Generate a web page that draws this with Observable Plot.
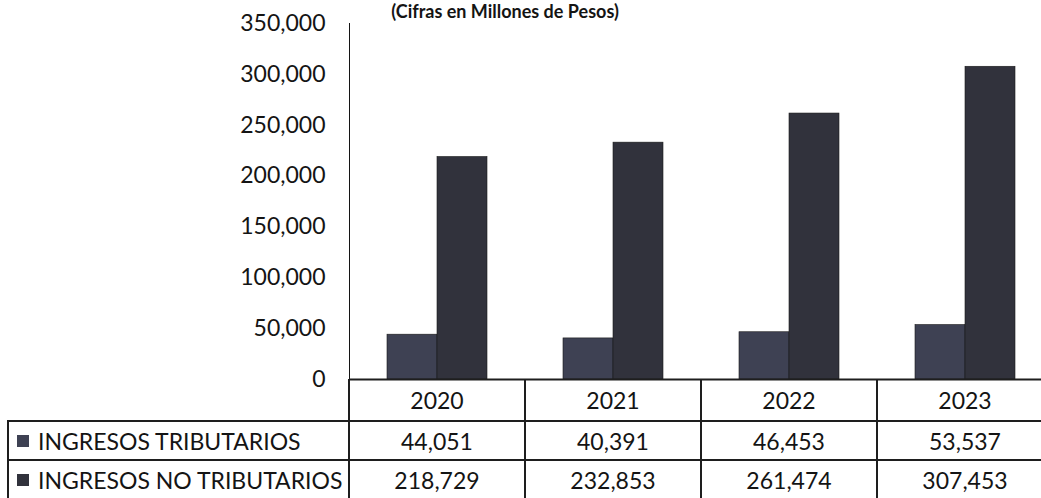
<!DOCTYPE html>
<html>
<head>
<meta charset="utf-8">
<script src="https://cdn.jsdelivr.net/npm/d3@7"></script>
<script src="https://cdn.jsdelivr.net/npm/@observablehq/plot@0.6"></script>
<style>
  html, body { margin: 0; padding: 0; background: #fff; }
  #wrap { position: relative; width: 1041px; height: 498px; overflow: hidden; font-family: Lato, "Open Sans", sans-serif; color: #141414; }
  #title { position: absolute; left: 0; width: 1010px; text-align: center; top: 2px; font-weight: 700; font-size: 18px; line-height: 18px; white-space: nowrap; }
  #chart { position: absolute; left: 0; top: 0; width: 1053px; }
  #chart svg { max-width: none !important; width: 1053px !important; height: 380px !important; }
  .cell { position: absolute; box-sizing: border-box; display: flex; align-items: center; justify-content: center; font-size: 23px; white-space: nowrap; }
  .line { position: absolute; background: #1e1e1e; }
</style>
</head>
<body>
<div id="wrap">
  <div id="title">(Cifras en Millones de Pesos)</div>
  <div id="chart"></div>
</div>
<script>
const years = ["2020", "2021", "2022", "2023"];
const seriesNames = ["INGRESOS TRIBUTARIOS", "INGRESOS NO TRIBUTARIOS"];
const tributarios = [44051, 40391, 46453, 53537];
const noTributarios = [218729, 232853, 261474, 307453];
const yTicks = [0, 50000, 100000, 150000, 200000, 250000, 300000, 350000];
const seriesColors = ["#3e4153", "#31323c"];

const data = [];
years.forEach((y, i) => {
  data.push({year: y, series: seriesNames[0], value: tributarios[i]});
  data.push({year: y, series: seriesNames[1], value: noTributarios[i]});
});

const chart = Plot.plot({
  width: 1053,
  height: 380,
  marginLeft: 349,
  marginRight: 0,
  marginTop: 23,
  marginBottom: 1,
  style: {fontFamily: "Lato, sans-serif", fontSize: "23px", color: "#141414", background: "transparent", overflow: "visible", maxWidth: "none"},
  fx: {domain: years, padding: 0, axis: null},
  x: {domain: seriesNames, paddingInner: 0, paddingOuter: 0.76, axis: null},
  y: {domain: [0, 350000], ticks: yTicks, tickFormat: d3.format(","), label: null, tickSize: 0, tickPadding: 24, line: true},
  color: {domain: seriesNames, range: seriesColors},
  marks: [
    Plot.barY(data, {fx: "year", x: "series", y: "value", fill: "series", stroke: "#1a1a1a", strokeWidth: 0.6}),
    Plot.ruleY([0], {stroke: "#1e1e1e", strokeWidth: 2})
  ]
});
document.getElementById("chart").appendChild(chart);

// Data table below the chart, positioned from the chart's own fx scale
const fx = chart.scale("fx");
const wrap = document.getElementById("wrap");
const fmt = d3.format(",");
const rowTops = [379, 421, 460, 499];
const tableLeft = 8;
const axisX = 349;
const fullW = 1053;

function addLine(x, y, w, h) {
  const d = document.createElement("div");
  d.className = "line";
  Object.assign(d.style, {left: x + "px", top: y + "px", width: w + "px", height: h + "px"});
  wrap.appendChild(d);
}
function addCell(x, y, w, h, html, align) {
  const d = document.createElement("div");
  d.className = "cell";
  Object.assign(d.style, {left: x + "px", top: y + "px", width: w + "px", height: h + "px"});
  if (align === "left") d.style.justifyContent = "flex-start";
  d.innerHTML = html;
  wrap.appendChild(d);
}

// year row
years.forEach(y => {
  addCell(fx.apply(y), rowTops[0], fx.bandwidth, rowTops[1] - rowTops[0], y);
});
// value rows
const rows = [tributarios, noTributarios];
rows.forEach((vals, r) => {
  const top = rowTops[r + 1], h = rowTops[r + 2] - top;
  addCell(tableLeft, top, axisX - tableLeft, h,
    `<span style="display:inline-block;width:12px;height:12px;background:${seriesColors[r]};margin:0 9px 0 9px"></span>${seriesNames[r]}`, "left");
  years.forEach((y, i) => addCell(fx.apply(y), top, fx.bandwidth, h, fmt(vals[i])));
});
// horizontal lines
addLine(tableLeft, rowTops[1] - 1, fullW - tableLeft, 2);
addLine(tableLeft, rowTops[2] - 1, fullW - tableLeft, 2);
// vertical lines
addLine(tableLeft - 1, rowTops[1] - 1, 2, 498 - rowTops[1] + 1);
addLine(axisX - 1, rowTops[0], 2, 498 - rowTops[0]);
years.slice(1).forEach(y => addLine(fx.apply(y) - 1, rowTops[0], 2, 498 - rowTops[0]));
</script>
</body>
</html>
